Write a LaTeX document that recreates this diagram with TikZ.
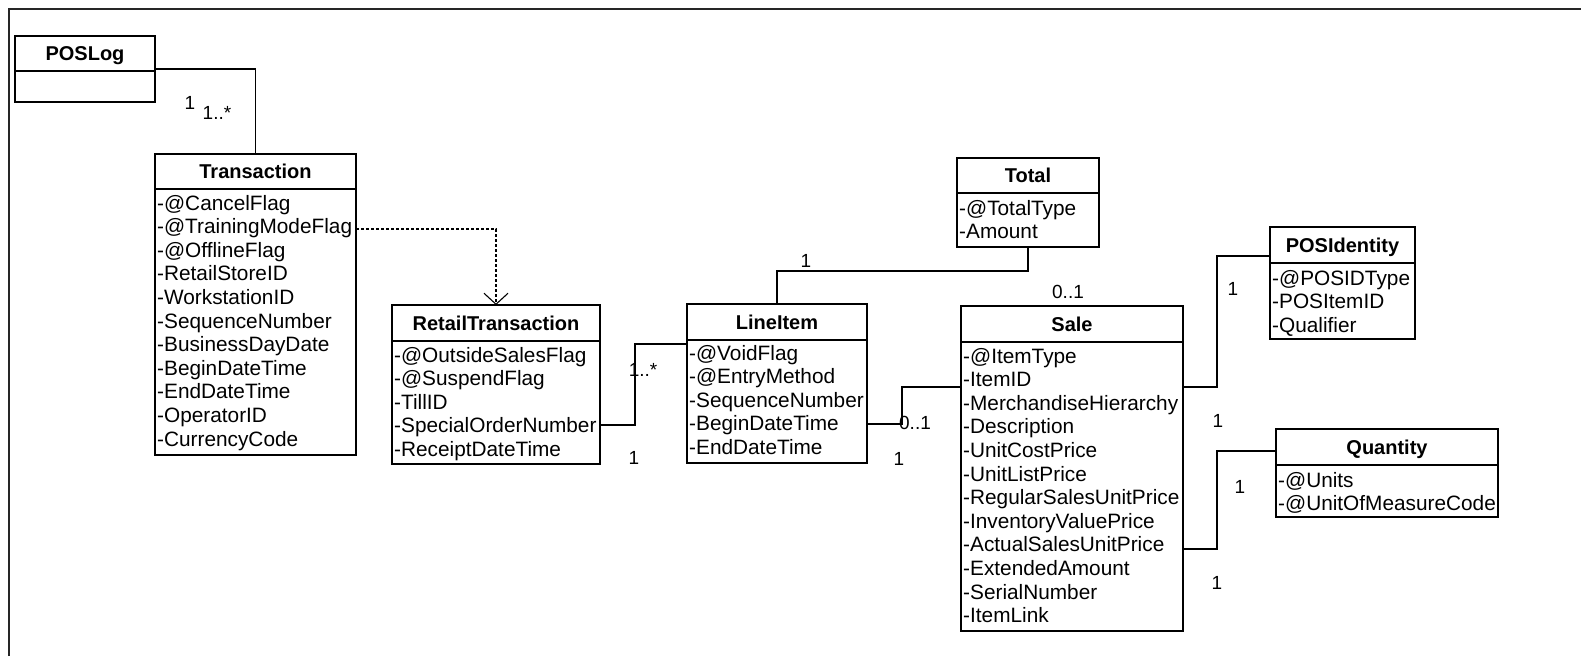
\documentclass[tikz,border=0pt]{standalone}
\usepackage{fontspec}
\setmainfont{Liberation Sans}
\usetikzlibrary{arrows.meta}

\tikzset{
  umlbox/.style={rectangle, draw=black, line width=1.5pt, fill=white, inner sep=0pt, outer sep=0pt},
  divider/.style={draw=black, line width=1.5pt},
  classtitle/.style={inner sep=0pt, anchor=base, font=\bfseries\fontsize{20}{24}\selectfont},
  attrtext/.style={inner sep=0pt, anchor=base west, font=\fontsize{20.8}{24}\selectfont},
  assoc/.style={draw=black, line width=1.2pt},
  depend/.style={draw=black, line width=1.1pt, dash pattern=on 3pt off 2pt,
    -{Straight Barb[length=11pt, width=24pt, line width=1.1pt]}},
  mult/.style={inner sep=0pt, font=\fontsize{19}{22}\selectfont},
  frame/.style={draw=black!85, line width=2.5pt}
}

% #1 name, #2 x, #3 y (top-left), #4 width, #5 height, #6 header height,
% #7 title, #8 attribute list, #9 baseline offset of the first attribute
\newcommand{\umlclass}[9]{%
  \node[umlbox, anchor=north west, minimum width=#4pt, minimum height=#5pt] (#1) at (#2,#3) {};
  \draw[divider] ([yshift=-#6pt]#1.north west) -- ([yshift=-#6pt]#1.north east);
  \node[classtitle] (#1-title) at ([yshift={-#6pt/2-7pt}]#1.north) {#7};
  \foreach \attr [count=\k] in {#8}
    \node[attrtext] (#1-\k) at ([xshift=2pt, yshift={-#9pt-(\k-1)*23.6pt}]#1.north west) {\attr};
}

\begin{document}
\begin{tikzpicture}[x=1pt, y=-1pt]
\useasboundingbox (0,0) rectangle (1581,656);

% outer frame
\draw[frame] (9,656) -- (9,9) -- (1581,9);

% POSLog (no attributes)
\node[umlbox, anchor=north west, minimum width=140pt, minimum height=66pt] (poslog) at (15,36) {};
\draw[divider] ([yshift=-35pt]poslog.north west) -- ([yshift=-35pt]poslog.north east);
\node[classtitle] (poslog-title) at ([yshift=-24.5pt]poslog.north) {POSLog};

\umlclass{trans}{155}{154}{201}{301}{35}{Transaction}{%
  -@CancelFlag,-@TrainingModeFlag,-@OfflineFlag,-RetailStoreID,-WorkstationID,%
  -SequenceNumber,-BusinessDayDate,-BeginDateTime,-EndDateTime,-OperatorID,-CurrencyCode}{56}

\umlclass{rt}{392}{305}{208}{159}{36}{RetailTransaction}{%
  -@OutsideSalesFlag,-@SuspendFlag,-TillID,-SpecialOrderNumber,-ReceiptDateTime}{57}

\umlclass{li}{687}{304}{180}{159}{36}{LineItem}{%
  -@VoidFlag,-@EntryMethod,-SequenceNumber,-BeginDateTime,-EndDateTime}{56}

\umlclass{total}{957}{158}{142}{89}{35}{Total}{-@TotalType,-Amount}{57}

\umlclass{sale}{961}{306}{222}{325}{36}{Sale}{%
  -@ItemType,-ItemID,-MerchandiseHierarchy,-Description,-UnitCostPrice,-UnitListPrice,%
  -RegularSalesUnitPrice,-InventoryValuePrice,-ActualSalesUnitPrice,-ExtendedAmount,%
  -SerialNumber,-ItemLink}{57}

\umlclass{posid}{1270}{227}{145}{112}{36}{POSIdentity}{-@POSIDType,-POSItemID,-Qualifier}{58}

\umlclass{qty}{1276}{429}{222}{88}{36}{Quantity}{-@Units,-@UnitOfMeasureCode}{58}

% associations
\draw[assoc] ([yshift=-33pt]poslog.north east) -| (trans.north);
\draw[depend] ([yshift=-75pt]trans.north east) -| (rt.north);
\draw[assoc] ([yshift=-120pt]rt.north east) -- ++(35,0) |- ([yshift=-40pt]li.north west);
\draw[assoc] ([yshift=-120pt]li.north east) -- ++(35,0) |- ([yshift=-81pt]sale.north west);
\draw[assoc] (li.north) -- ++(0,-33) -| (total.south);
\draw[assoc] ([yshift=-81pt]sale.north east) -- ++(34,0) |- ([yshift=-29pt]posid.north west);
\draw[assoc] ([yshift=-243pt]sale.north east) -- ++(34,0) |- ([yshift=-22pt]qty.north west);

% multiplicities
\node[mult] (m1) at (190,103) {1};
\node[mult] (m2) at (217,113) {1..*};
\node[mult] (m3) at (806,261) {1};
\node[mult] (m4) at (1068,292) {0..1};
\node[mult] (m5) at (643,370) {1..*};
\node[mult] (m6) at (634,458) {1};
\node[mult] (m7) at (915,423) {0..1};
\node[mult] (m8) at (899,459) {1};
\node[mult] (m9) at (1233,289) {1};
\node[mult] (m10) at (1218,421) {1};
\node[mult] (m11) at (1240,487) {1};
\node[mult] (m12) at (1217,583) {1};
\end{tikzpicture}
\end{document}
